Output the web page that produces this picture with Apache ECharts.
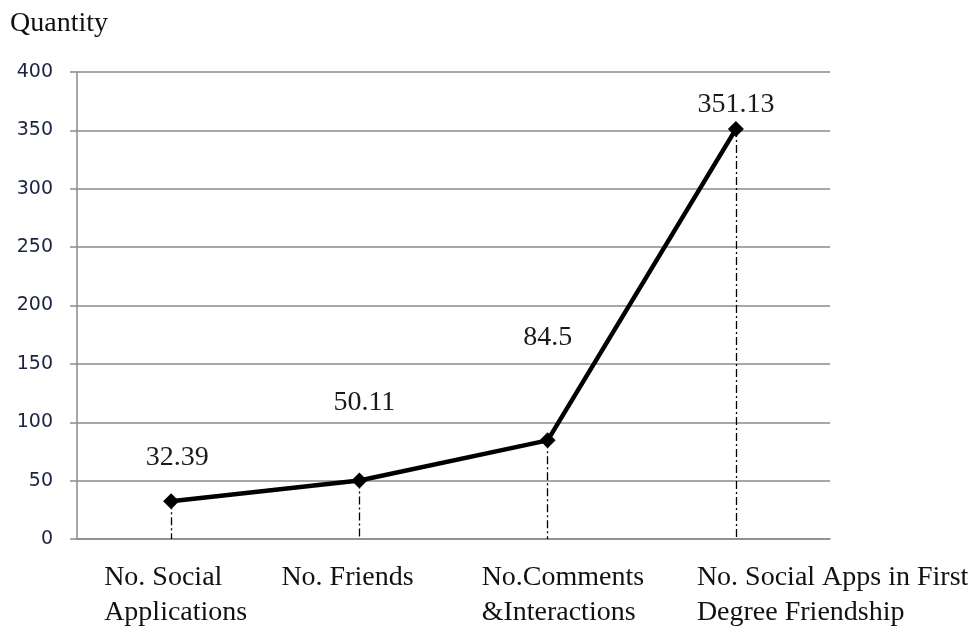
<!DOCTYPE html>
<html>
<head>
<meta charset="utf-8">
<script src="https://cdn.jsdelivr.net/npm/echarts@6/dist/echarts.min.js"></script>
<style>
  html, body { margin: 0; padding: 0; background: #fff; }
  #chart { width: 979px; height: 630px; }
</style>
</head>
<body>
<div id="chart"></div>
<script>
// Category names (two-line labels)
const categories = [
  'No. Social\nApplications',
  'No. Friends',
  'No.Comments\n&Interactions',
  'No. Social Apps in First\nDegree Friendship'
];
// Average quantity per category
const values = [32.39, 50.11, 84.5, 351.13];
// Y axis ticks
const yMin = 0, yMax = 400, yStep = 50;

// Label placement (pixels): value-label lift and sideways shift,
// and where each left-aligned category label starts relative to its tick
const labelLift = [22, 56, 81, 2];
const labelShift = [6, 5, 0, 0];
const categoryIndent = [-67, -78, -66, -39];

const serif = '"Liberation Serif", "Times New Roman", serif';
const sans = '"DejaVu Sans", Verdana, sans-serif';

// One rich style per category: a box twice as wide as the indent,
// centred on the tick, with its lines left-aligned inside it
const catRich = {};
categoryIndent.forEach((d, i) => {
  catRich['c' + i] = {
    width: -2 * d, align: 'left',
    fontFamily: serif, fontSize: 28, color: '#111', lineHeight: 35
  };
});

const chart = echarts.init(document.getElementById('chart'));

chart.setOption({
  animation: false,
  grid: { left: 77, right: 149, top: 72, bottom: 91 },
  graphic: [{
    type: 'text', left: 10, top: 10,
    style: { text: 'Quantity', font: '28px ' + serif, fill: '#111' }
  }],
  xAxis: {
    type: 'category',
    data: categories,
    boundaryGap: true,
    axisLine: { show: true, lineStyle: { color: '#8a8a8a', width: 1.5 } },
    axisTick: { show: false },
    axisLabel: {
      interval: 0, margin: 21, align: 'center',
      formatter: (val, idx) =>
        val.split('\n').map(line => '{c' + idx + '|' + line + '}').join('\n'),
      rich: catRich
    },
    splitLine: { show: false }
  },
  yAxis: {
    type: 'value',
    min: yMin, max: yMax, interval: yStep,
    axisLine: { show: true, lineStyle: { color: '#8a8a8a', width: 1.5 } },
    axisTick: { show: true, length: 7, lineStyle: { color: '#8a8a8a', width: 1.5 } },
    axisLabel: { fontFamily: sans, fontSize: 19, color: '#1b2340', margin: 24 },
    splitLine: { show: true, lineStyle: { color: '#8a8a8a', width: 1.5 } }
  },
  series: [{
    type: 'line',
    data: values.map((v, i) => ({
      value: v,
      label: {
        show: true, position: 'top', distance: labelLift[i],
        offset: [labelShift[i], 0],
        formatter: String(v),
        fontFamily: serif, fontSize: 28, color: '#1a1a1a'
      }
    })),
    symbol: 'diamond',
    symbolSize: 16,
    lineStyle: { color: '#000', width: 4.5 },
    itemStyle: { color: '#000' },
    z: 3,
    markLine: {
      silent: true,
      symbol: ['none', 'none'],
      label: { show: false },
      lineStyle: { color: '#000', width: 1.3, type: [8, 3, 2, 3] },
      data: values.map((v, i) => [
        { xAxis: i, yAxis: v },
        { xAxis: i, yAxis: 0 }
      ])
    }
  }]
});
</script>
</body>
</html>
